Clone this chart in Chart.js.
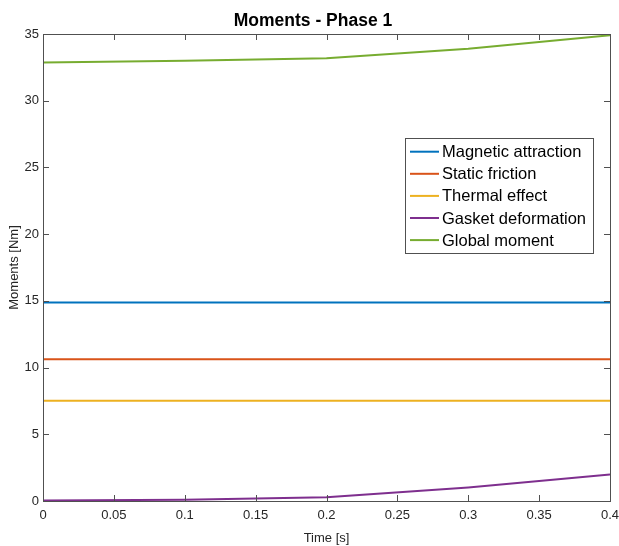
<!DOCTYPE html>
<html>
<head>
<meta charset="utf-8">
<script src="https://cdn.jsdelivr.net/npm/chart.js@4.4.1/dist/chart.umd.min.js"></script>
<style>
  html, body { margin: 0; padding: 0; background: #fff; }
  #wrap { width: 619px; height: 546px; position: relative; }
</style>
</head>
<body>
<div id="wrap"><canvas id="c" width="619" height="546"></canvas></div>
<script>
// Time samples [s]
const times = [0, 0.1, 0.2, 0.3, 0.4];

// Moment contributions [Nm]
const magneticAttraction = [14.88, 14.88, 14.88, 14.88, 14.88];
const staticFriction     = [10.62, 10.62, 10.62, 10.62, 10.62];
const thermalEffect      = [7.51, 7.51, 7.51, 7.51, 7.51];
const gasketDeformation  = [0.03, 0.1, 0.28, 1.02, 1.99];
const globalMoment       = [32.86, 32.99, 33.19, 33.9, 34.9];

const seriesNames = ['Magnetic attraction', 'Static friction', 'Thermal effect', 'Gasket deformation', 'Global moment'];
const seriesValues = [magneticAttraction, staticFriction, thermalEffect, gasketDeformation, globalMoment];
const seriesColors = ['#0072BD', '#D95319', '#EDB120', '#7E2F8E', '#77AC30'];

// Axis ticks
const xTicks = [0, 0.05, 0.1, 0.15, 0.2, 0.25, 0.3, 0.35, 0.4];
const xTickLabels = ['0', '0.05', '0.1', '0.15', '0.2', '0.25', '0.3', '0.35', '0.4'];
const yTicks = [0, 5, 10, 15, 20, 25, 30, 35];
const yTickLabels = ['0', '5', '10', '15', '20', '25', '30', '35'];

const FONT = '"Liberation Sans", Arial, Helvetica, sans-serif';
const AXIS_COLOR = '#505050';
const TEXT_COLOR = '#262626';

// Axes box with inward tick marks on all four sides
const boxAxes = {
  id: 'boxAxes',
  afterDatasetsDraw(chart) {
    const ctx = chart.ctx;
    const a = chart.chartArea;
    const xs = chart.scales.x, ys = chart.scales.y;
    const len = 6;
    ctx.save();
    ctx.strokeStyle = AXIS_COLOR;
    ctx.lineWidth = 1;
    ctx.beginPath();
    xTicks.forEach(v => {
      const px = Math.round(xs.getPixelForValue(v)) + 0.5;
      ctx.moveTo(px, a.bottom); ctx.lineTo(px, a.bottom - len);
      ctx.moveTo(px, a.top); ctx.lineTo(px, a.top + len);
    });
    yTicks.forEach(v => {
      const py = Math.round(ys.getPixelForValue(v)) + 0.5;
      ctx.moveTo(a.left, py); ctx.lineTo(a.left + len, py);
      ctx.moveTo(a.right, py); ctx.lineTo(a.right - len, py);
    });
    ctx.stroke();
    ctx.strokeRect(Math.round(a.left) + 0.5, Math.round(a.top) + 0.5,
                   Math.round(a.right - a.left), Math.round(a.bottom - a.top));
    ctx.restore();
  }
};

// Legend box in the upper right of the plot area
const boxLegend = {
  id: 'boxLegend',
  afterDraw(chart) {
    const ctx = chart.ctx;
    const left = 405, top = 138, width = 188, height = 115;
    const rowH = 22.1, firstRow = 151.7;
    ctx.save();
    ctx.fillStyle = '#fff';
    ctx.fillRect(left, top, width, height);
    ctx.strokeStyle = AXIS_COLOR;
    ctx.lineWidth = 1;
    ctx.strokeRect(left + 0.5, top + 0.5, width, height);
    ctx.font = '16.5px ' + FONT;
    ctx.textBaseline = 'middle';
    ctx.textAlign = 'left';
    chart.data.datasets.forEach((ds, i) => {
      const y = firstRow + i * rowH;
      ctx.strokeStyle = ds.borderColor;
      ctx.lineWidth = 2;
      ctx.beginPath();
      ctx.moveTo(410, y); ctx.lineTo(439, y);
      ctx.stroke();
      ctx.fillStyle = '#000';
      ctx.fillText(ds.label, 442, y + 1);
    });
    ctx.restore();
  }
};

new Chart(document.getElementById('c'), {
  type: 'line',
  data: {
    datasets: seriesNames.map((name, i) => ({
      label: name,
      data: times.map((t, k) => ({ x: t, y: seriesValues[i][k] })),
      borderColor: seriesColors[i],
      backgroundColor: seriesColors[i],
      borderWidth: 2,
      pointRadius: 0,
      tension: 0,
      fill: false
    }))
  },
  options: {
    responsive: false,
    animation: false,
    devicePixelRatio: 1,
    layout: { padding: { left: 7, right: 0, top: 0, bottom: 0 } },
    plugins: {
      legend: { display: false },
      tooltip: { enabled: false },
      title: {
        display: true,
        text: 'Moments - Phase 1',
        color: '#000',
        font: { family: FONT, size: 17.5, weight: 'bold' },
        padding: { top: 11, bottom: 2 }
      }
    },
    scales: {
      x: {
        type: 'linear',
        min: 0, max: 0.4,
        grid: { display: false, drawTicks: false },
        border: { display: false },
        afterBuildTicks(scale) { scale.ticks = xTicks.map(v => ({ value: v })); },
        afterFit(scale) {
          scale.height = 45;
          scale.paddingLeft = 0;
          scale.paddingRight = 9;
        },
        ticks: {
          color: TEXT_COLOR,
          font: { family: FONT, size: 13 },
          padding: 7,
          maxRotation: 0,
          autoSkip: false,
          callback: (v, i) => xTickLabels[i]
        },
        title: {
          display: true,
          text: 'Time [s]',
          color: TEXT_COLOR,
          font: { family: FONT, size: 13 },
          padding: { top: 2, bottom: 0 }
        }
      },
      y: {
        type: 'linear',
        min: 0, max: 35,
        grid: { display: false, drawTicks: false },
        border: { display: false },
        afterBuildTicks(scale) { scale.ticks = yTicks.map(v => ({ value: v })); },
        afterFit(scale) { scale.width = 36; },
        ticks: {
          color: TEXT_COLOR,
          font: { family: FONT, size: 13 },
          padding: 4,
          autoSkip: false,
          callback: (v, i) => yTickLabels[i]
        },
        title: {
          display: true,
          text: 'Moments [Nm]',
          color: TEXT_COLOR,
          font: { family: FONT, size: 13 },
          padding: { top: 0, bottom: 2 }
        }
      }
    }
  },
  plugins: [boxAxes, boxLegend]
});
</script>
</body>
</html>
